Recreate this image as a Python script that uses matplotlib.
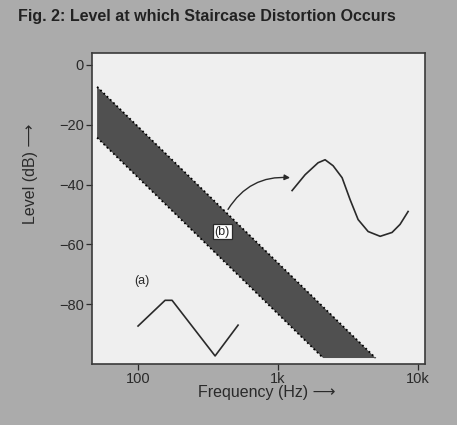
import matplotlib
matplotlib.use('Agg')
import matplotlib.pyplot as plt
import numpy as np

# Band where staircase distortion occurs (upper / lower edge)
band_freq_upper = [51, 4970]
band_level_upper = [-7.3, -98]
band_freq_lower = [51, 2100]
band_level_lower = [-24.3, -98]

# Curve (a): low-level triangle wave
a_freq = [100, 156, 175, 355, 518]
a_level = [-87.3, -78.7, -78.7, -97.3, -87.0]

# Curve (b): high-level sine-like wave
b_freq = [1259, 1560, 1931, 2166, 2471, 2865, 3266, 3728, 4397, 5358, 6516, 7432, 8483]
b_level = [-42, -36.7, -32.7, -31.7, -33.7, -37.7, -45, -51.7, -55.7, -57.3, -56, -53.3, -49]

yticks = [0, -20, -40, -60, -80]
ytick_labels = ['0', '\u221220', '\u221240', '\u221260', '\u221280']
xticks = [100, 1000, 10000]
xtick_labels = ['100', '1k', '10k']

FIG_BG = '#ababab'
AX_BG = '#efefef'
INK = '#2a2a2a'
BAND = '#505050'

plt.rcParams['font.family'] = ['Liberation Sans', 'DejaVu Sans']

fig = plt.figure(figsize=(4.57, 4.25), dpi=100)
fig.patch.set_facecolor(FIG_BG)
ax = fig.add_axes([0.2013, 0.1435, 0.7287, 0.7318])
ax.set_facecolor(AX_BG)
ax.set_xscale('log')
ax.set_xlim(46.9, 11200)
ax.set_ylim(-100, 4)

# band
poly_x = band_freq_upper + band_freq_lower[::-1]
poly_y = band_level_upper + band_level_lower[::-1]
ax.fill(poly_x, poly_y, fc=BAND, ec='none')
ax.plot(band_freq_upper, band_level_upper, color='black', ls=(0, (1, 1.5)), lw=1.3)
ax.plot(band_freq_lower, band_level_lower, color='black', ls=(0, (1, 1.5)), lw=1.3)

# curves
ax.plot(a_freq, a_level, color=INK, lw=1.2)
ax.plot(b_freq, b_level, color=INK, lw=1.2)

ax.text(107, -72.3, '(a)', fontsize=9, color=INK, ha='center', va='center')
ax.annotate('', xy=(1218, -37.7), xytext=(439, -48.3),
            arrowprops=dict(arrowstyle='-|>', color=INK, lw=1.0, mutation_scale=8,
                            connectionstyle='arc3,rad=-0.3', shrinkA=0, shrinkB=0))
ax.text(398, -55.7, '(b)', fontsize=9, color=INK, ha='center', va='center',
        bbox=dict(boxstyle='square,pad=0.15', fc='white', ec=INK, lw=0.9))

ax.set_yticks(yticks)
ax.set_yticklabels(ytick_labels)
ax.set_xticks(xticks)
ax.set_xticklabels(xtick_labels)
ax.minorticks_off()
ax.tick_params(direction='out', length=4, width=0.9, colors=INK, labelsize=10.5, pad=2)
for s in ax.spines.values():
    s.set_color('#3a3a3a')
    s.set_linewidth(1.2)

fig.text(18 / 457, 1 - 16 / 425, 'Fig. 2: Level at which Staircase Distortion Occurs',
         fontsize=11.5, fontweight='bold', color='#222222', ha='left', va='center')
fig.text(31 / 457, 1 - 174 / 425, 'Level (dB) \u27f6', rotation=90, fontsize=11.5,
         color=INK, ha='center', va='center')
fig.text(267 / 457, 1 - 393 / 425, 'Frequency (Hz) \u27f6', fontsize=11.5,
         color=INK, ha='center', va='center')

fig.savefig('out.png', dpi=100, facecolor=fig.get_facecolor())
